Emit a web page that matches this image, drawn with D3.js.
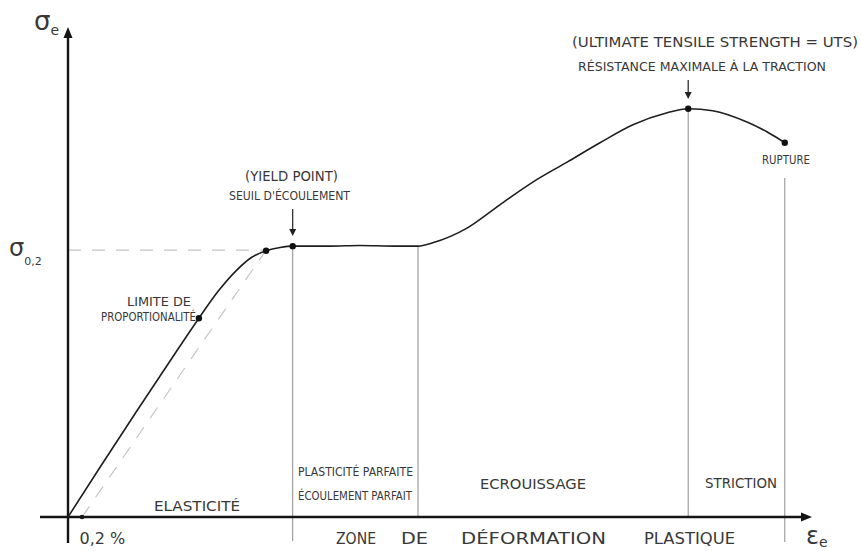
<!DOCTYPE html>
<html>
<head>
<meta charset="utf-8">
<script src="https://cdn.jsdelivr.net/npm/d3@7"></script>
<style>
  html, body { margin: 0; padding: 0; background: #fff; }
  svg { display: block; }
  text { font-family: "DejaVu Sans", sans-serif; fill: #383838; }
</style>
</head>
<body>
<svg id="chart" width="861" height="551"></svg>
<script>
// ---- data (strain in %, stress in arbitrary units; σ0,2 = 200) ----
const strain = [0, 0.46, 0.99, 1.56, 1.87, 2.15, 2.40, 2.62, 2.83, 3.03, 3.21, 3.74, 4.17, 4.67, 5.0, 5.21, 5.70, 6.17, 6.64, 7.13, 7.60, 8.07, 8.56, 8.86, 9.21, 9.70, 9.99, 10.24];
const stress = [0, 37.5, 80, 125, 149, 169.5, 184.5, 194.5, 199.5, 202, 203, 203, 203.5, 203, 203, 205.5, 216.5, 234, 251, 266, 280.5, 294, 303, 306, 304.5, 296, 288.5, 280.5];
const keyStrain = [1.87, 2.83, 3.21, 8.86, 10.24];
const keyStress = [149, 199.5, 203, 306, 280.5];
const offsetStrain = 0.2;
const proofStress = 200;
const dividerStrain = [3.21, 5.0, 8.86, 10.24];
const xTickValues = [0.2];
const xTickLabels = ["0,2 %"];

const svg = d3.select("#chart");
const x = d3.scaleLinear().domain([0, 10.6]).range([68, 810]);
const y = d3.scaleLinear().domain([0, 365]).range([517, 30]);

// ---- dashed construction lines ----
const dashStyle = s => s.attr("stroke", "#c4c4c4").attr("stroke-width", 1.2)
  .attr("stroke-dasharray", "13,11").attr("fill", "none");
svg.append("line").attr("x1", x(0)).attr("x2", x(keyStrain[1]))
  .attr("y1", y(proofStress)).attr("y2", y(proofStress)).call(dashStyle);
svg.append("line").attr("x1", x(offsetStrain)).attr("y1", y(0))
  .attr("x2", x(keyStrain[1])).attr("y2", y(proofStress)).call(dashStyle);

// ---- zone dividers ----
const divTop = [y(keyStress[2]), y(keyStress[2]), y(keyStress[3]), 178];
const divBottom = [541, y(0), y(0), 542];
dividerStrain.forEach((s, i) => {
  svg.append("line").attr("x1", x(s)).attr("x2", x(s))
    .attr("y1", divTop[i]).attr("y2", divBottom[i])
    .attr("stroke", "#8c8c8c").attr("stroke-width", 1);
});

// ---- axes ----
const xAxis = svg.append("g").attr("transform", `translate(0,${y(0)})`)
  .call(d3.axisBottom(x).tickValues(xTickValues).tickSize(0)
    .tickFormat((d, i) => xTickLabels[i]));
xAxis.select(".domain").remove();
xAxis.selectAll("text").attr("text-anchor", "start").attr("dx", -3)
  .attr("y", 27).attr("dy", 0).style("font-size", "16px")
  .style("font-family", "DejaVu Sans, sans-serif").attr("fill", "#333");

const yAxis = svg.append("g").attr("transform", `translate(${x(0)},0)`)
  .call(d3.axisLeft(y).tickValues([proofStress]).tickSize(0).tickFormat(""));
yAxis.select(".domain").remove();
yAxis.selectAll(".tick text").remove();

const axisColor = "#151515";
svg.append("line").attr("x1", 40).attr("x2", 804).attr("y1", y(0)).attr("y2", y(0))
  .attr("stroke", axisColor).attr("stroke-width", 2.4);
svg.append("path").attr("d", `M812,${y(0)} L801,${y(0) - 4.5} L801,${y(0) + 4.5} Z`).attr("fill", axisColor);
svg.append("line").attr("x1", x(0)).attr("x2", x(0)).attr("y1", 543).attr("y2", 35)
  .attr("stroke", axisColor).attr("stroke-width", 2.4);
svg.append("path").attr("d", `M${x(0)},27 L${x(0) - 4.5},38 L${x(0) + 4.5},38 Z`).attr("fill", axisColor);

// tick dot at 0.2 %
svg.append("circle").attr("cx", x(offsetStrain)).attr("cy", y(0)).attr("r", 2.3).attr("fill", axisColor);

// ---- stress-strain curve ----
const pts = strain.map((s, i) => [s, stress[i]]);
const line = d3.line().x(d => x(d[0])).y(d => y(d[1])).curve(d3.curveMonotoneX);
svg.append("path").datum(pts).attr("d", line)
  .attr("fill", "none").attr("stroke", "#1e1e1e").attr("stroke-width", 1.6);

// key points
keyStrain.forEach((s, i) => {
  svg.append("circle").attr("cx", x(s)).attr("cy", y(keyStress[i])).attr("r", 3.2).attr("fill", "#111");
});

// pointer arrows
function pointer(px, y1, y2) {
  svg.append("line").attr("x1", px).attr("x2", px).attr("y1", y1).attr("y2", y2 - 6)
    .attr("stroke", "#222").attr("stroke-width", 1.2);
  svg.append("path").attr("d", `M${px},${y2} L${px - 3.5},${y2 - 7} L${px + 3.5},${y2 - 7} Z`).attr("fill", "#222");
}
pointer(x(keyStrain[2]), 209, 236);
pointer(x(keyStrain[3]), 80, 99);

// ---- labels ----
const labels = [
  { t: "(ULTIMATE TENSILE STRENGTH = UTS)", x0: 572, x1: 858, yb: 47, fs: 14 },
  { t: "RÉSISTANCE MAXIMALE À LA TRACTION", x0: 578, x1: 826, yb: 71, fs: 12.5 },
  { t: "(YIELD POINT)", x0: 245, x1: 338, yb: 181, fs: 14 },
  { t: "SEUIL D'ÉCOULEMENT", x0: 229, x1: 350, yb: 200, fs: 12.5 },
  { t: "LIMITE DE", x0: 127, x1: 191, yb: 306, fs: 11.5 },
  { t: "PROPORTIONALITÉ", x0: 101, x1: 196, yb: 321, fs: 11.5 },
  { t: "RUPTURE", x0: 762, x1: 810, yb: 164, fs: 12 },
  { t: "ELASTICITÉ", x0: 154, x1: 240, yb: 511, fs: 13.5 },
  { t: "PLASTICITÉ PARFAITE", x0: 298, x1: 413, yb: 476, fs: 12 },
  { t: "ÉCOULEMENT PARFAIT", x0: 298, x1: 412, yb: 500, fs: 12 },
  { t: "ECROUISSAGE", x0: 480, x1: 586, yb: 489, fs: 14 },
  { t: "STRICTION", x0: 705, x1: 777, yb: 488, fs: 14 },
  { t: "ZONE", x0: 336, x1: 376, yb: 544, fs: 16 },
  { t: "DE", x0: 401, x1: 428, yb: 544, fs: 16 },
  { t: "DÉFORMATION", x0: 461, x1: 606, yb: 544, fs: 16 },
  { t: "PLASTIQUE", x0: 644, x1: 735, yb: 544, fs: 16 }
];
labels.forEach(l => {
  svg.append("text").attr("x", l.x0).attr("y", l.yb)
    .attr("textLength", l.x1 - l.x0).attr("lengthAdjust", "spacingAndGlyphs")
    .style("font-size", l.fs + "px").text(l.t);
});

// axis symbols
function sym(px, py, main, sub, fs, sfs, dy) {
  const t = svg.append("text").attr("x", px).attr("y", py).style("font-size", fs + "px").attr("fill", "#444");
  t.append("tspan").text(main);
  t.append("tspan").attr("dy", dy).style("font-size", sfs + "px").text(sub);
}
sym(34, 30, "σ", "e", 26, 14, 5);
sym(9, 256, "σ", "0,2", 24, 11, 9);
sym(806, 544, "ε", "e", 24, 14, 3);
</script>
</body>
</html>
